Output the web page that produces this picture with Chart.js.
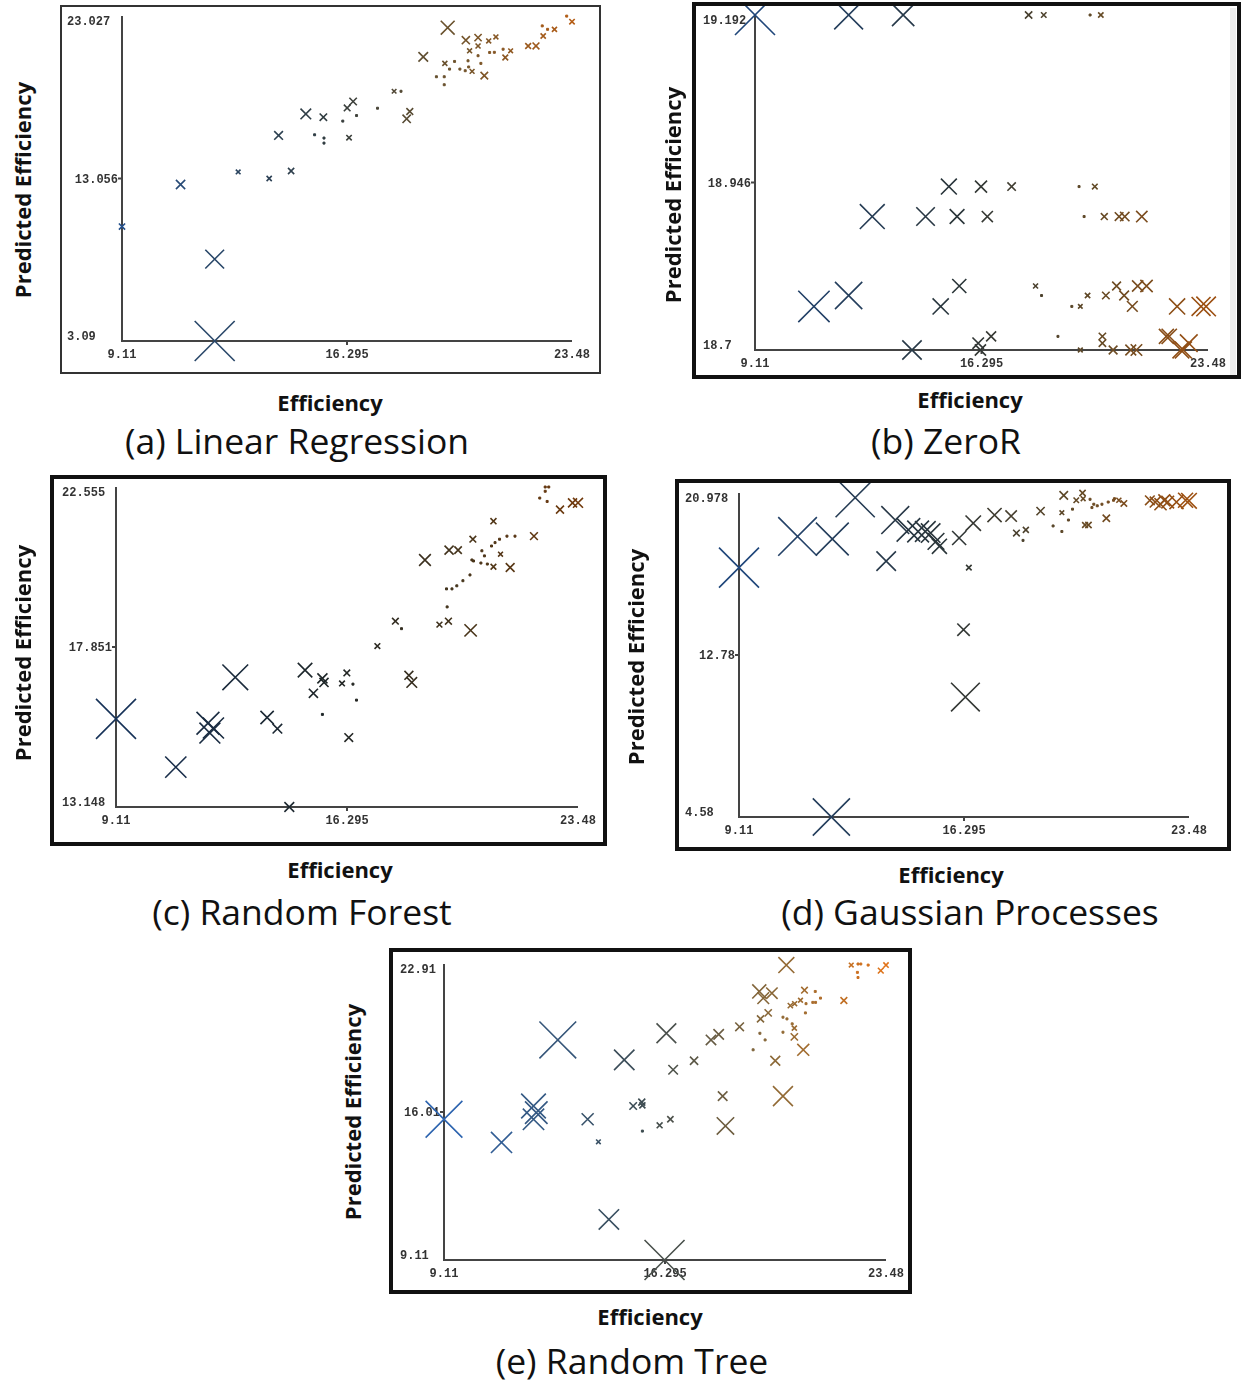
<!DOCTYPE html>
<html><head><meta charset="utf-8">
<script src="https://cdn.jsdelivr.net/npm/chart.js@4.4.1/dist/chart.umd.min.js"></script>
<style>
html,body{margin:0;padding:0;background:#fff}
body{width:1241px;height:1381px;position:relative;overflow:hidden;font-family:"Open Sans",Lato,sans-serif}
.box{position:absolute;box-sizing:border-box;pointer-events:none}
canvas.pc{position:absolute}
.t{position:absolute;white-space:nowrap;color:#111;line-height:1}
.yt{font-weight:bold;font-size:22px;transform:translate(-50%,-50%) rotate(-90deg)}
.xt{font-weight:bold;font-size:22px;transform:translate(-50%,-50%)}
.cap{font-size:35.5px;transform:translate(-50%,-50%)}
.strip{position:absolute;background:#ececec}
</style></head><body>
<script>
// ---------- data ----------
const xTickLabels = ['9.11', '16.295', '23.48'];

const lrTickLabels = ['3.09', '13.056', '23.027'];
const lrActual = [12.07,12.07,9.11,10.98,12.82,13.81,14.51,14.11,14.98,15.54,15.26,15.56,15.56,16.36,16.16,16.30,16.49,16.60,17.27,17.80,18.02,18.20,18.30,18.73,19.51,19.15,19.40,19.40,19.42,19.57,19.73,19.90,20.07,20.18,20.29,20.16,20.09,20.48,20.21,20.48,20.48,20.57,20.68,20.82,21.05,20.85,21.00,21.28,21.35,21.52,22.08,22.33,22.53,22.56,22.70,22.92,23.31,23.48];
const lrPredicted = [3.09,8.11,10.11,12.69,13.46,13.06,13.52,15.70,17.02,16.82,15.74,15.54,15.23,15.56,16.58,17.39,17.78,16.92,17.37,18.41,18.41,16.72,17.17,20.52,22.31,19.30,19.30,18.81,20.12,19.77,20.24,19.77,19.67,19.90,19.63,20.28,21.54,21.70,20.89,21.19,20.59,20.12,19.37,21.50,21.74,20.79,20.80,20.99,20.48,20.89,21.19,21.19,22.42,21.80,22.21,22.21,23.02,22.68];

const zrTickLabels = ['18.7', '18.946', '19.192'];
const zrActual = [9.11,12.08,13.81,17.79,18.27,19.74,20.08, 15.26,16.28,17.25,19.39,19.89, 12.83,14.52,15.52,16.48,19.55,20.19,20.66,20.84,21.38, 15.59,18.01,20.58,21.25,21.53, 12.08,18.20,19.66,20.24,20.82, 10.98,15.00,19.16,19.43,21.08,22.50,23.26,23.42, 16.60,18.72,20.13,22.16,22.25, 16.19,20.13,22.87, 14.09,16.26,19.43,20.47,21.03,21.21,22.62,22.70];
const zrPredicted = [19.192,19.192,19.192,19.192,19.192,19.192,19.192, 18.94,18.94,18.94,18.94,18.94, 18.896,18.896,18.896,18.896,18.896,18.896,18.896,18.896,18.896, 18.794,18.794,18.794,18.794,18.794, 18.78,18.78,18.78,18.78,18.78, 18.764,18.764,18.764,18.764,18.764,18.764,18.764,18.764, 18.72,18.72,18.72,18.72,18.72, 18.71,18.71,18.71, 18.70,18.70,18.70,18.70,18.70,18.70,18.70,18.70];

const rfTickLabels = ['13.148', '17.851', '22.555'];
const rfActual = [9.11,10.97,11.97,12.14,12.03,12.82,13.81,14.13,14.50,14.99,15.25,15.53,15.58,15.53,16.14,16.29,16.48,16.59,16.35,17.24,17.80,17.99,18.22,18.31,18.72,19.17,19.45,19.41,20.14,19.39,19.56,19.71,19.90,20.12,19.47,19.75,20.21,20.18,20.23,20.49,20.57,20.46,20.66,20.85,20.85,21.07,20.79,20.90,21.04,21.27,21.52,21.37,22.11,22.46,22.57,22.46,22.29,22.52,22.92,23.31,23.48];
const rfPredicted = [15.74,14.32,15.61,15.47,15.32,16.96,15.78,15.45,13.148,17.17,16.49,16.93,16.81,15.87,16.78,17.09,16.76,16.29,15.19,17.88,18.61,18.39,17.02,16.81,20.41,18.51,18.61,19.03,18.34,19.56,19.56,19.65,19.80,19.97,20.70,20.70,21.02,20.41,20.38,20.68,20.53,20.32,20.29,20.21,21.55,20.58,20.82,20.92,21.02,21.11,21.11,20.19,21.11,22.555,22.555,22.43,22.23,22.13,21.89,22.09,22.09];

const gpTickLabels = ['4.58', '12.78', '20.978'];
const gpActual = [9.11,10.98,12.09,12.06,12.82,14.10,13.81,14.52,14.83,15.06,15.23,15.40,15.51,16.14,16.59,16.45,16.28,16.34,17.27,17.80,17.97,18.27,18.18,18.74,19.48,19.42,19.14,19.42,19.63,19.76,19.88,20.08,20.10,20.16,20.27,20.84,20.32,20.38,20.44,20.55,20.70,20.90,21.07,21.24,21.40,21.10,22.23,22.40,22.57,22.69,22.80,23.08,23.37,23.48];
const gpPredicted = [17.20,18.78,18.65,4.58,20.74,19.61,17.53,19.11,19.03,19.03,18.95,18.53,18.28,18.70,19.45,17.20,14.06,10.65,19.86,19.81,18.95,19.11,18.58,20.06,20.86,19.98,19.31,19.03,19.61,20.16,20.61,20.98,20.69,19.36,19.36,19.70,20.66,20.24,20.41,20.33,20.41,20.52,20.61,20.61,20.45,20.69,20.61,20.52,20.41,20.61,20.52,20.52,20.61,20.58];

const rtTickLabels = ['9.11', '16.01', '22.91'];
const rtActual = [9.11,10.98,12.02,12.02,12.11,12.81,13.78,14.13,14.47,14.97,15.26,15.54,15.56,15.56,16.12,16.47,16.28,16.34,16.56,17.24,17.79,18.04,18.17,18.26,18.72,19.16,19.38,19.55,19.40,19.65,19.36,19.49,19.77,19.88,20.13,20.24,20.13,20.13,20.26,20.43,20.50,20.50,20.79,20.37,20.51,20.70,20.88,21.10,21.19,21.35,20.83,21.18,20.86,22.11,22.35,22.57,22.66,22.55,22.57,22.90,23.31,23.48];
const rtPredicted = [15.67,14.59,16.29,15.67,15.98,19.37,15.67,14.62,11.00,18.44,16.29,16.47,16.32,15.12,15.39,15.67,9.11,19.68,17.98,18.40,19.37,19.63,16.75,15.36,19.98,18.91,19.68,19.37,20.35,20.63,21.63,21.32,21.55,18.40,16.75,22.86,19.73,20.43,20.35,20.12,19.92,19.51,18.91,20.97,21.06,21.22,21.06,21.12,21.12,21.32,21.69,21.63,20.63,21.21,22.86,22.91,22.91,22.52,22.28,22.86,22.60,22.86];

// ---------- layout / style ----------
const panels = [
  {caption:'(a) Linear Regression', actual:lrActual, predicted:lrPredicted, ticks:lrTickLabels,
   box:[60,5,601,374], bw:2, bc:'#333', axis:[122,572,341,16], yLabLeft:67,
   yTitle:[22,190], xTitle:[330,402], cap:[297,441], ink:0.8},
  {caption:'(b) ZeroR', actual:zrActual, predicted:zrPredicted, ticks:zrTickLabels,
   box:[692,2,1241,379], bw:4, bc:'#111', axis:[755,1208,350,15], yLabLeft:703,
   yTitle:[672,195], xTitle:[970,399], cap:[946,441], ink:0.7, strip:true},
  {caption:'(c) Random Forest', actual:rfActual, predicted:rfPredicted, ticks:rfTickLabels,
   box:[50,475,607,846], bw:4, bc:'#111', axis:[116,578,807,487], yLabLeft:62,
   yTitle:[22,653], xTitle:[340,869], cap:[302,912], ink:0.5},
  {caption:'(d) Gaussian Processes', actual:gpActual, predicted:gpPredicted, ticks:gpTickLabels,
   box:[675,479,1231,851], bw:4, bc:'#111', axis:[739,1189,817,493], yLabLeft:685,
   yTitle:[635,657], xTitle:[951,874], cap:[970,912], ink:0.7},
  {caption:'(e) Random Tree', actual:rtActual, predicted:rtPredicted, ticks:rtTickLabels,
   box:[389,948,912,1294], bw:4, bc:'#111', axis:[444,886,1260,964], yLabLeft:400,
   yTitle:[352,1112], xTitle:[650,1316], cap:[632,1361], ink:1.0}
];

const colorStops = [[0,[45,100,175]],[0.45,[60,75,80]],[0.75,[140,105,55]],[1,[225,115,25]]];
function gradColor(t, ink){
  t = Math.max(0, Math.min(1, t));
  for (let i = 1; i < colorStops.length; i++){
    const [t1,c1] = colorStops[i], [t0,c0] = colorStops[i-1];
    if (t <= t1){
      const f = (t - t0)/(t1 - t0);
      const c = c0.map((v,k)=>Math.round((v + (c1[k]-v)*f)*ink));
      return `rgb(${c[0]},${c[1]},${c[2]})`;
    }
  }
  return 'rgb(0,0,0)';
}

function el(cls, txt, x, y){
  const d = document.createElement('div');
  d.className = 't ' + cls; d.textContent = txt;
  d.style.left = x + 'px'; d.style.top = y + 'px';
  document.body.appendChild(d);
}

const wekaAxes = {
  id: 'wekaAxes',
  beforeDatasetsDraw(chart){
    const p = chart.options.plugins.wekaAxes.panel;
    const ctx = chart.ctx, xs = chart.scales.x, ys = chart.scales.y;
    const l = p.box[0];
    const x0 = xs.getPixelForValue(xs.min), x1 = xs.getPixelForValue(xs.max);
    const y0 = ys.getPixelForValue(ys.min), y1 = ys.getPixelForValue(ys.max);
    const xm = xs.getPixelForValue(parseFloat(xTickLabels[1]));
    const ym = ys.getPixelForValue(parseFloat(p.ticks[1]));
    ctx.save();
    ctx.strokeStyle = '#444'; ctx.lineWidth = 2;
    ctx.beginPath();
    ctx.moveTo(x0, y1); ctx.lineTo(x0, y0); ctx.lineTo(x1, y0);
    ctx.moveTo(x0 - 4, ym); ctx.lineTo(x0, ym);
    ctx.moveTo(xm, y0); ctx.lineTo(xm, y0 + 4);
    ctx.stroke();
    ctx.fillStyle = '#333';
    ctx.font = 'bold 12px "Liberation Mono", "DejaVu Sans Mono", monospace';
    ctx.textBaseline = 'middle';
    ctx.textAlign = 'left';
    ctx.fillText(p.ticks[2], p.yLabLeft - l, y1 + 6);
    ctx.fillText(p.ticks[0], p.yLabLeft - l, y0 - 4);
    ctx.textAlign = 'right';
    ctx.fillText(p.ticks[1], x0 - 4, ym + 1);
    ctx.textAlign = 'center';
    ctx.fillText(xTickLabels[0], x0, y0 + 14);
    ctx.fillText(xTickLabels[1], xm, y0 + 14);
    ctx.fillText(xTickLabels[2], x1, y0 + 14);
    ctx.restore();
  }
};

panels.forEach(p => {
  const [l,t,r,b] = p.box, [x0,x1,y0,y1] = p.axis;
  const W = r - l, H = b - t;
  const cv = document.createElement('canvas');
  cv.className = 'pc'; cv.width = W; cv.height = H;
  cv.style.left = l + 'px'; cv.style.top = t + 'px';
  cv.style.width = W + 'px'; cv.style.height = H + 'px';
  document.body.appendChild(cv);
  const bx = document.createElement('div');
  bx.className = 'box';
  Object.assign(bx.style, {left:l+'px', top:t+'px', width:W+'px', height:H+'px', border:`${p.bw}px solid ${p.bc}`});
  document.body.appendChild(bx);
  if (p.strip){
    const s = document.createElement('div'); s.className = 'strip';
    Object.assign(s.style, {left:'1230px', top:'8px', width:'6px', height:'367px'});
    document.body.appendChild(s);
  }
  el('yt', 'Predicted Efficiency', p.yTitle[0], p.yTitle[1]);
  el('xt', 'Efficiency', p.xTitle[0], p.xTitle[1]);
  el('cap', p.caption, p.cap[0], p.cap[1]);

  const xmin = parseFloat(xTickLabels[0]), xmax = parseFloat(xTickLabels[2]);
  const ymin = parseFloat(p.ticks[0]), ymax = parseFloat(p.ticks[2]);
  const errs = p.actual.map((v,i)=>Math.abs(v - p.predicted[i]));
  const maxErr = Math.max(...errs);
  const full = c => 2 + 38 * errs[c.dataIndex] / maxErr;
  const isDot = c => full(c) < 4.5;

  new Chart(cv, {
    type: 'scatter',
    data: { datasets: [{
      data: p.actual.map((v,i)=>({x:v, y:p.predicted[i]})),
      pointStyle: c => isDot(c) ? 'rect' : 'crossRot',
      pointRadius: c => isDot(c) ? 1.4 : full(c)/Math.SQRT2,
      pointHoverRadius: c => isDot(c) ? 1.4 : full(c)/Math.SQRT2,
      pointBorderColor: c => gradColor((c.raw.x - xmin)/(xmax - xmin), p.ink),
      pointBackgroundColor: c => gradColor((c.raw.x - xmin)/(xmax - xmin), p.ink),
      pointBorderWidth: c => isDot(c) ? 1 : 1.6,
      clip: false
    }]},
    options: {
      responsive: false, animation: false, devicePixelRatio: 1,
      events: [],
      layout: { autoPadding: false, padding: { left: x0 - l, right: r - x1, top: y1 - t, bottom: b - y0 } },
      scales: {
        x: { type:'linear', min:xmin, max:xmax, display:false },
        y: { type:'linear', min:ymin, max:ymax, display:false }
      },
      plugins: { legend:{display:false}, tooltip:{enabled:false}, wekaAxes:{panel:p} }
    },
    plugins: [wekaAxes]
  });
});
</script>
</body></html>
